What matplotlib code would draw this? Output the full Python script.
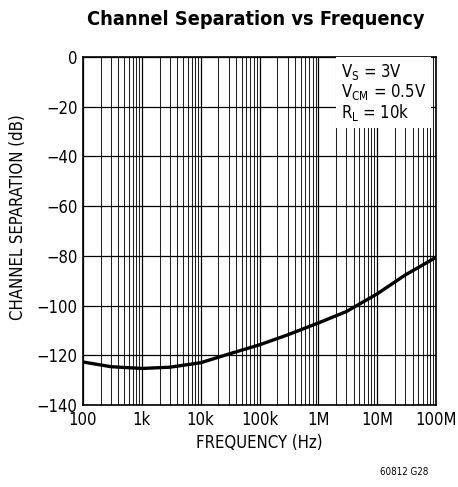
import matplotlib
matplotlib.use('Agg')
import matplotlib.pyplot as plt
from matplotlib.ticker import FixedLocator, LogLocator, NullFormatter

# 데이터
freq_hz = [100, 300, 1e3, 3e3, 1e4, 3e4, 1e5, 3e5, 1e6, 3e6, 1e7, 3e7, 1e8]
sep_db = [-122.7, -124.6, -125.3, -124.8, -123.0, -119.5, -115.8, -111.8, -107.0, -102.4, -95.3, -87.7, -80.6]

xtick_vals = [1e2, 1e3, 1e4, 1e5, 1e6, 1e7, 1e8]
xtick_labels = ['100', '1k', '10k', '100k', '1M', '10M', '100M']
ytick_vals = [0, -20, -40, -60, -80, -100, -120, -140]

plt.rcParams['font.family'] = ['DejaVu Sans']
plt.rcParams['font.stretch'] = 'condensed'
plt.rcParams['mathtext.fontset'] = 'custom'
plt.rcParams['mathtext.rm'] = 'DejaVu Sans:stretch=condensed'
plt.rcParams['mathtext.it'] = 'DejaVu Sans:stretch=condensed'


def main():
    fig = plt.figure(figsize=(4.58, 4.87), dpi=100)
    ax = fig.add_axes([0.1812, 0.1684, 0.7708, 0.7146])

    ax.plot(freq_hz, sep_db, color='black', lw=2.4, solid_capstyle='butt', zorder=4)

    ax.set_xscale('log')
    ax.set_xlim(1e2, 1e8)
    ax.set_ylim(-140, 0)

    ax.xaxis.set_major_locator(FixedLocator(xtick_vals))
    ax.set_xticklabels(xtick_labels)
    ax.xaxis.set_minor_locator(LogLocator(base=10, subs=range(2, 10), numticks=20))
    ax.xaxis.set_minor_formatter(NullFormatter())
    ax.set_yticks(ytick_vals)
    ax.set_yticklabels([f'{v}'.replace('-', '\u2212') for v in ytick_vals])

    # 격자
    ax.grid(True, which='major', axis='both', color='black', lw=0.9)
    ax.grid(True, which='minor', axis='x', color='#222222', lw=0.75)
    ax.tick_params(which='both', length=0, labelsize=12, pad=4)
    for s in ax.spines.values():
        s.set_linewidth(1.2)

    ax.set_xlabel('FREQUENCY (Hz)', fontsize=12, labelpad=4)
    ax.set_ylabel('CHANNEL SEPARATION (dB)', fontsize=12, labelpad=5)
    ax.yaxis.set_label_coords(-0.158, 0.54)
    fig.text(0.558, 0.959, 'Channel Separation vs Frequency', ha='center', va='center',
             fontsize=14.3, fontweight='bold')

    # 조건 박스
    ax.text(0.73, 0.985, 'V$_\\mathregular{S}$ = 3V\nV$_\\mathregular{CM}$ = 0.5V\nR$_\\mathregular{L}$ = 10k',
            transform=ax.transAxes, ha='left', va='top', fontsize=12, linespacing=1.0,
            bbox=dict(boxstyle='square,pad=0.3', fc='white', ec='none'), zorder=5)

    fig.text(0.935, 0.02, '60812 G28', ha='right', va='bottom', fontsize=7)

    plt.savefig('out.png', dpi=100)


if __name__ == "__main__":
    main()
